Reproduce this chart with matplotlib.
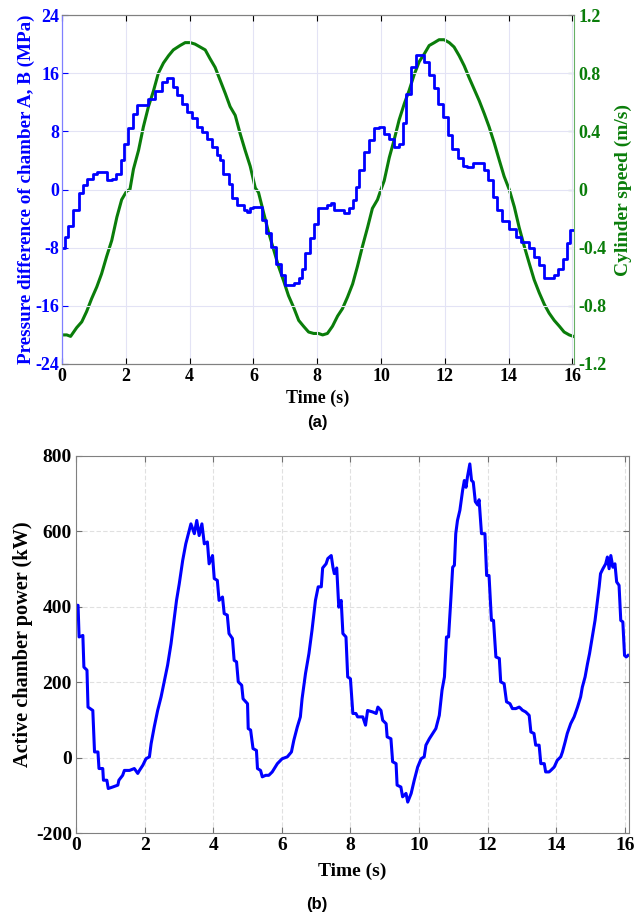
import matplotlib
matplotlib.use('Agg')
import matplotlib.pyplot as plt

# ---- data ----
# (a) pressure difference, MPa (step levels, start times in s)
p_time = [0.00, 0.10, 0.20, 0.36, 0.52, 0.67, 0.79, 0.96, 1.09, 1.40, 1.56, 1.70,
          1.84, 1.95, 2.08, 2.22, 2.34, 2.50, 2.71, 2.92, 3.13, 3.28, 3.49, 3.60,
          3.75, 3.91, 4.07, 4.23, 4.38, 4.54, 4.70, 4.85, 4.96, 5.06, 5.22, 5.32,
          5.48, 5.69, 5.79, 5.90, 6.00, 6.27, 6.40, 6.55, 6.70, 6.85, 7.00, 7.26,
          7.42, 7.52, 7.63, 7.78, 7.89, 8.01, 8.32, 8.43, 8.53, 8.85, 9.00, 9.11,
          9.21, 9.32, 9.47, 9.63, 9.79, 9.94, 10.10, 10.26, 10.41, 10.57, 10.68, 10.78,
          10.94, 11.09, 11.35, 11.50, 11.65, 11.80, 11.95, 12.09, 12.24, 12.40, 12.56, 12.71,
          12.87, 13.24, 13.34, 13.50, 13.65, 13.80, 14.00, 14.23, 14.40, 14.65, 14.80, 14.96,
          15.12, 15.43, 15.55, 15.70, 15.82, 15.93, 16.05]
p_val = [-8.1, -6.6, -5.0, -2.8, -0.5, 0.6, 1.5, 2.2, 2.4, 1.3, 1.5, 2.2,
         4.1, 6.3, 8.4, 10.4, 11.6, 11.6, 12.4, 13.6, 14.8, 15.3, 14.1, 13.0,
         11.8, 10.7, 9.8, 8.6, 7.9, 7.0, 5.9, 4.7, 4.0, 2.2, 0.8, -1.2,
         -2.2, -2.8, -3.1, -2.6, -2.4, -4.2, -6.0, -7.9, -10.2, -11.8, -13.1, -12.9,
         -12.2, -10.9, -8.8, -6.7, -4.7, -2.6, -2.2, -1.9, -2.8, -3.3, -2.6, -1.5,
         0.4, 2.7, 5.2, 6.8, 8.4, 8.6, 7.7, 7.0, 5.9, 6.3, 9.1, 13.2,
         16.9, 18.5, 17.5, 15.7, 13.9, 11.8, 10.0, 7.5, 5.6, 4.3, 3.3, 3.1,
         3.6, 2.7, 1.3, -1.0, -2.8, -4.4, -5.4, -6.5, -7.2, -8.1, -9.3, -10.4,
         -12.2, -11.8, -10.9, -9.5, -7.4, -5.6, -5.6]

# (a) cylinder speed, m/s
v_time = [0.00, 0.15, 0.27, 0.46, 0.62, 0.77, 0.93, 1.09, 1.24, 1.40, 1.56, 1.72,
          1.87, 2.03, 2.13, 2.24, 2.40, 2.55, 2.71, 2.87, 3.02, 3.18, 3.34, 3.49,
          3.70, 3.86, 4.02, 4.17, 4.33, 4.49, 4.64, 4.80, 4.96, 5.12, 5.27, 5.43,
          5.59, 5.74, 5.90, 6.06, 6.16, 6.32, 6.47, 6.63, 6.79, 6.95, 7.10, 7.26,
          7.42, 7.57, 7.73, 7.89, 8.04, 8.17, 8.32, 8.48, 8.64, 8.79, 8.95, 9.11,
          9.26, 9.42, 9.58, 9.73, 9.89, 10.00, 10.10, 10.26, 10.41, 10.57, 10.73, 10.88,
          11.04, 11.20, 11.35, 11.51, 11.67, 11.82, 11.98, 12.14, 12.29, 12.45, 12.61, 12.76,
          12.92, 13.08, 13.24, 13.39, 13.55, 13.71, 13.86, 14.02, 14.18, 14.33, 14.49, 14.65,
          14.80, 14.96, 15.12, 15.27, 15.43, 15.59, 15.74, 15.90, 16.03]
v_val = [-1.00, -1.00, -1.01, -0.95, -0.91, -0.84, -0.75, -0.67, -0.58, -0.46, -0.35, -0.19,
         -0.07, -0.01, 0.00, 0.14, 0.27, 0.43, 0.57, 0.68, 0.80, 0.87, 0.92, 0.96,
         0.99, 1.01, 1.01, 1.00, 0.98, 0.96, 0.90, 0.84, 0.75, 0.66, 0.57, 0.51,
         0.38, 0.27, 0.16, 0.01, -0.02, -0.16, -0.29, -0.41, -0.53, -0.63, -0.73, -0.81,
         -0.90, -0.94, -0.98, -0.99, -0.99, -1.00, -0.99, -0.94, -0.87, -0.82, -0.74, -0.65,
         -0.53, -0.39, -0.26, -0.13, -0.07, 0.00, 0.06, 0.22, 0.34, 0.48, 0.59, 0.68,
         0.79, 0.88, 0.93, 0.99, 1.01, 1.03, 1.03, 1.01, 0.98, 0.92, 0.85, 0.77,
         0.69, 0.61, 0.52, 0.43, 0.32, 0.20, 0.09, 0.00, -0.12, -0.26, -0.39, -0.51,
         -0.62, -0.71, -0.79, -0.85, -0.90, -0.94, -0.98, -1.00, -1.01]

# (b) active chamber power, kW
w_time = [0.00, 0.06, 0.09, 0.20, 0.23, 0.32, 0.35, 0.49, 0.54, 0.64, 0.67, 0.78,
          0.80, 0.90, 0.94, 1.07, 1.22, 1.25, 1.36, 1.41, 1.56, 1.70, 1.80, 1.85,
          1.95, 2.04, 2.14, 2.19, 2.28, 2.38, 2.48, 2.58, 2.67, 2.77, 2.87, 2.93,
          3.01, 3.11, 3.20, 3.30, 3.35, 3.45, 3.52, 3.59, 3.67, 3.74, 3.83, 3.88,
          3.98, 4.03, 4.12, 4.17, 4.27, 4.32, 4.41, 4.46, 4.56, 4.61, 4.68, 4.73,
          4.83, 4.87, 5.00, 5.02, 5.09, 5.16, 5.26, 5.29, 5.38, 5.43, 5.53, 5.62,
          5.72, 5.87, 6.01, 6.16, 6.28, 6.35, 6.45, 6.54, 6.59, 6.69, 6.79, 6.88,
          6.98, 7.06, 7.15, 7.19, 7.29, 7.34, 7.44, 7.49, 7.53, 7.60, 7.66, 7.73,
          7.78, 7.87, 7.92, 8.00, 8.07, 8.16, 8.21, 8.36, 8.44, 8.50, 8.65, 8.75,
          8.80, 8.89, 8.94, 9.04, 9.07, 9.18, 9.23, 9.33, 9.36, 9.47, 9.52, 9.62,
          9.67, 9.77, 9.86, 9.96, 10.06, 10.15, 10.20, 10.30, 10.40, 10.49, 10.59, 10.67,
          10.74, 10.80, 10.86, 10.93, 10.98, 11.03, 11.07, 11.12, 11.19, 11.27, 11.32, 11.37,
          11.41, 11.48, 11.53, 11.58, 11.64, 11.71, 11.75, 11.82, 11.92, 11.97, 12.04, 12.11,
          12.17, 12.24, 12.34, 12.38, 12.48, 12.55, 12.65, 12.72, 12.82, 12.92, 12.97, 13.01,
          13.11, 13.21, 13.26, 13.35, 13.40, 13.50, 13.55, 13.65, 13.69, 13.79, 13.84, 13.94,
          14.03, 14.13, 14.18, 14.26, 14.32, 14.42, 14.52, 14.62, 14.71, 14.76, 14.84, 14.91,
          14.97, 15.05, 15.13, 15.20, 15.25, 15.29, 15.36, 15.44, 15.49, 15.54, 15.59, 15.65,
          15.71, 15.76, 15.83, 15.88, 15.94, 15.99, 16.04, 16.09]
w_val = [404, 404, 320, 324, 240, 232, 134, 125, 15, 15, -29, -29,
         -60, -60, -82, -78, -73, -60, -47, -34, -34, -29, -42, -34,
         -20, -3, 2, 37, 81, 125, 161, 205, 245, 302, 373, 417,
         461, 523, 567, 603, 620, 594, 629, 589, 620, 567, 572, 514,
         536, 475, 470, 417, 426, 382, 378, 329, 316, 258, 254, 201,
         192, 156, 143, 77, 73, 24, 19, -29, -34, -51, -47, -47,
         -38, -16, -3, 2, 15, 46, 81, 108, 156, 223, 276, 338,
         417, 453, 453, 503, 514, 528, 536, 505, 488, 503, 399, 417,
         329, 320, 214, 209, 117, 117, 108, 108, 86, 125, 121, 117,
         134, 125, 99, 90, 55, 50, -11, -16, -73, -78, -104, -95,
         -118, -95, -60, -25, -3, 2, 33, 50, 64, 77, 112, 179,
         214, 320, 320, 425, 505, 510, 594, 629, 656, 709, 735, 717,
         744, 779, 735, 731, 679, 670, 684, 594, 594, 483, 483, 364,
         364, 267, 263, 201, 196, 148, 143, 130, 130, 134, 130, 126,
         121, 112, 68, 64, 33, 33, -16, -16, -38, -38, -34, -25,
         -7, 2, 15, 42, 64, 90, 108, 134, 161, 187, 214, 249,
         276, 320, 364, 417, 453, 488, 501, 514, 532, 501, 536, 505,
         514, 466, 457, 364, 360, 271, 267, 271]

p_ticks = [-24, -16, -8, 0, 8, 16, 24]
v_ticks = [-1.2, -0.8, -0.4, 0, 0.4, 0.8, 1.2]
w_ticks = [-200, 0, 200, 400, 600, 800]
t_ticks = [0, 2, 4, 6, 8, 10, 12, 14, 16]

BLUE = '#0000ff'
GREEN = '#0a7d0a'
SERIF = 'Liberation Serif'


def fmt_num(v):
    return f'{v:g}'


fig = plt.figure(figsize=(6.36, 9.19), dpi=100)

# ---------- (a) ----------
ax = fig.add_axes([62 / 636, 1 - 364 / 919, 512 / 636, 349 / 919])
ax2 = ax.twinx()
ax.set_zorder(ax2.get_zorder() + 1)
ax.patch.set_visible(False)

ax.step(p_time, p_val, where='post', color=BLUE, lw=2.0)
ax2.plot(v_time, v_val, color=GREEN, lw=2.2)

ax.set_xlim(0, 16.05)
ax.set_ylim(-24, 24)
ax2.set_ylim(-1.2, 1.2)
ax.set_xticks(t_ticks)
ax.set_yticks(p_ticks)
ax2.set_yticks(v_ticks)
ax.set_xticklabels([fmt_num(t) for t in t_ticks], fontfamily=SERIF, fontweight='bold', fontsize=13)
ax.set_yticklabels([fmt_num(p) for p in p_ticks], fontfamily=SERIF, fontweight='bold', fontsize=13, color=BLUE)
ax2.set_yticklabels([fmt_num(v) for v in v_ticks], fontfamily=SERIF, fontweight='bold', fontsize=13, color=GREEN)
ax.grid(True, color='#e3e3f5', lw=0.8)
ax.tick_params(axis='both', direction='in', length=4, top=True, pad=3)
ax.tick_params(axis='y', colors=BLUE, labelcolor=BLUE, pad=2)
ax2.tick_params(axis='y', direction='in', length=4, colors=GREEN, labelcolor=GREEN, pad=3)
for s in ['top', 'bottom']:
    ax.spines[s].set_color('#808080')
    ax2.spines[s].set_color('#808080')
ax.spines['left'].set_color('#7f7fff')
ax2.spines['left'].set_color('#7f7fff')
ax2.spines['right'].set_color('#66b066')
ax.spines['right'].set_visible(False)

ax.set_xlabel('Time (s)', fontfamily=SERIF, fontweight='bold', fontsize=13, labelpad=3)
ax.set_ylabel('Pressure difference of chamber A, B (MPa)', fontfamily=SERIF,
              fontweight='bold', fontsize=13.8, color=BLUE, labelpad=0)
ax2.set_ylabel('Cylinder speed (m/s)', fontfamily=SERIF, fontweight='bold',
               fontsize=14, color=GREEN, labelpad=6)
fig.text(317 / 636, 1 - 422 / 919, '(a)', ha='center', va='center',
         fontfamily='Liberation Sans', fontweight='bold', fontsize=12)

# ---------- (b) ----------
bx = fig.add_axes([76 / 636, 1 - 833 / 919, 553 / 636, 377 / 919])
bx.plot(w_time, w_val, color=BLUE, lw=2.2)
bx.set_xlim(0, 16.12)
bx.set_ylim(-200, 800)
bx.set_xticks(t_ticks)
bx.set_yticks(w_ticks)
bx.set_xticklabels([fmt_num(t) for t in t_ticks], fontfamily=SERIF, fontweight='bold', fontsize=14)
bx.set_yticklabels([fmt_num(w) for w in w_ticks], fontfamily=SERIF, fontweight='bold', fontsize=14)
bx.grid(True, color='#e0e0e0', lw=0.8, ls=(0, (4, 2)))
bx.tick_params(axis='both', direction='in', length=4, top=True, right=True, pad=3, color='#707070')
for s in bx.spines.values():
    s.set_color('#808080')
bx.set_xlabel('Time (s)', fontfamily=SERIF, fontweight='bold', fontsize=14, labelpad=6)
bx.set_ylabel('Active chamber power (kW)', fontfamily=SERIF, fontweight='bold',
              fontsize=14.6, labelpad=2)
fig.text(317 / 636, 1 - 905 / 919, '(b)', ha='center', va='center',
         fontfamily='Liberation Sans', fontweight='bold', fontsize=12)

fig.savefig('out.png', dpi=100)
